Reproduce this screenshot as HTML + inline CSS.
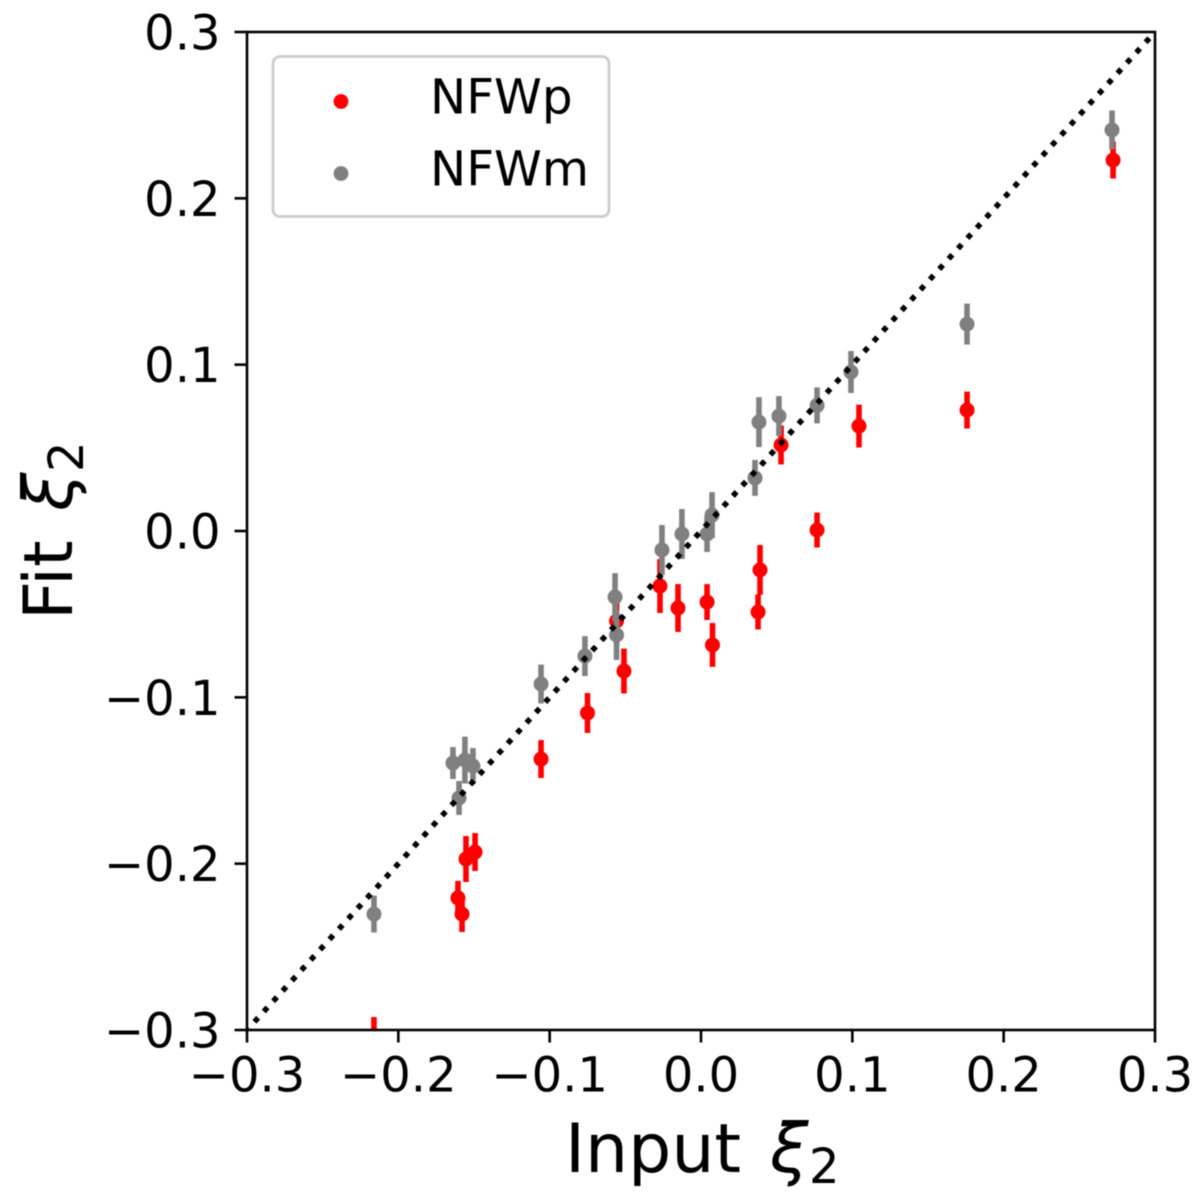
<!DOCTYPE html>
<html lang="en">
<head>
<meta charset="utf-8">
<title>Fit vs Input ξ2</title>
<style>
  html, body { margin: 0; padding: 0; background: #fff; }
  body { width: 1200px; height: 1204px; overflow: hidden; }
  svg { display: block; filter: blur(0.55px); }
  text { font-family: "DejaVu Sans", "Liberation Sans", sans-serif; fill: #000; }
</style>
</head>
<body>
<svg id="chart" xmlns="http://www.w3.org/2000/svg" width="1200" height="1204" viewBox="0 0 1200 1204">
  <defs>
    <clipPath id="plot-clip"><rect x="247" y="32" width="908" height="998"></rect></clipPath>
  </defs>
  <rect x="0" y="0" width="1200" height="1204" fill="#ffffff"></rect>
  <g id="marks" clip-path="url(#plot-clip)"></g>
  <g id="ticks"></g>
  <rect x="247" y="32" width="908" height="998" fill="none" stroke="#000" stroke-width="2.6"></rect>

  <g>
    <text x="565" y="1172" font-size="68">Input</text>
    <text x="770" y="1172" font-size="69" font-style="italic">ξ</text>
    <text x="809" y="1183" font-size="48">2</text>
  </g>
  <g>
    <text transform="translate(72,620) rotate(-90)" font-size="68">Fit</text>
    <text transform="translate(72,511) rotate(-90)" font-size="69" font-style="italic">ξ</text>
    <text transform="translate(83,472) rotate(-90)" font-size="48">2</text>
  </g>

  <g>
    <rect x="273" y="56.5" width="336" height="160" rx="7" ry="7" fill="#ffffff" fill-opacity="0.8" stroke="#cccccc" stroke-width="2.8"></rect>
    <circle cx="341" cy="101.5" r="7.4" fill="#ff0000"></circle>
    <text x="430" y="113.5" font-size="48.4">NFWp</text>
    <circle cx="341" cy="173.5" r="7.4" fill="#808080"></circle>
    <text x="430" y="185.5" font-size="48.4">NFWm</text>
  </g>
</svg>
<script>
// ---- chart data ----
const tickValues = [-0.3, -0.2, -0.1, 0.0, 0.1, 0.2, 0.3];
const tickLabels = ['\u22120.3', '\u22120.2', '\u22120.1', '0.0', '0.1', '0.2', '0.3'];
const identityLine = [-0.3, 0.3];

const nfwpInput = [0.2723, 0.1758, 0.1044, 0.0529, 0.0767, 0.0390, 0.0377, 0.0076, 0.0040, -0.0152, -0.0271, -0.0509, -0.0558, -0.0750, -0.1057, -0.1493, -0.1553, -0.1606, -0.1579, -0.2161];
const nfwpFit = [0.2230, 0.0727, 0.0631, 0.0517, 0.0006, -0.0234, -0.0487, -0.0685, -0.0427, -0.0463, -0.0331, -0.0842, -0.0541, -0.1094, -0.1371, -0.1930, -0.1972, -0.2206, -0.2303, -0.3042];
const nfwpErr = [0.0111, 0.0111, 0.0129, 0.0117, 0.0105, 0.0150, 0.0105, 0.0132, 0.0108, 0.0144, 0.0162, 0.0135, 0.0144, 0.0120, 0.0114, 0.0114, 0.0138, 0.0102, 0.0108, 0.0120];

const nfwmInput = [0.2716, 0.1758, 0.0991, 0.0767, 0.0515, 0.0383, 0.0357, 0.0073, 0.0040, -0.0126, -0.0258, -0.0568, -0.0558, -0.0767, -0.1057, -0.1639, -0.1560, -0.1507, -0.1599, -0.2161];
const nfwmFit = [0.2411, 0.1244, 0.0956, 0.0755, 0.0691, 0.0655, 0.0319, 0.0096, -0.0018, -0.0018, -0.0114, -0.0397, -0.0625, -0.0752, -0.0920, -0.1395, -0.1377, -0.1413, -0.1605, -0.2303];
const nfwmErr = [0.0117, 0.0123, 0.0126, 0.0108, 0.0120, 0.0150, 0.0108, 0.0138, 0.0108, 0.0150, 0.0150, 0.0144, 0.0150, 0.0120, 0.0117, 0.0096, 0.0141, 0.0108, 0.0102, 0.0111];

// ---- axis functions ----
const plotLeft = 247, plotRight = 1155, plotTop = 32, plotBottom = 1030;
const domainMin = -0.3, domainMax = 0.3;
function xScale(v) {
  return plotLeft + (v - domainMin) / (domainMax - domainMin) * (plotRight - plotLeft);
}
function yScale(v) {
  return plotBottom - (v - domainMin) / (domainMax - domainMin) * (plotBottom - plotTop);
}

const SVG_NS = 'http://www.w3.org/2000/svg';
const marks = document.getElementById('marks');
const ticks = document.getElementById('ticks');

function drawSeries(seriesName, xs, ys, errs, color) {
  xs.forEach(function (xv, i) {
    const bar = document.createElementNS(SVG_NS, 'line');
    
    
    bar.setAttribute('x1', xScale(xv));
    bar.setAttribute('x2', xScale(xv));
    bar.setAttribute('y1', yScale(ys[i] - errs[i]));
    bar.setAttribute('y2', yScale(ys[i] + errs[i]));
    bar.setAttribute('stroke', color);
    bar.setAttribute('stroke-width', '5.6');
    marks.appendChild(bar);

    const pt = document.createElementNS(SVG_NS, 'circle');
    
    
    pt.setAttribute('cx', xScale(xv));
    pt.setAttribute('cy', yScale(ys[i]));
    pt.setAttribute('r', '7.5');
    pt.setAttribute('fill', color);
    marks.appendChild(pt);
  });
}
drawSeries('nfwp', nfwpInput, nfwpFit, nfwpErr, '#ff0000');
drawSeries('nfwm', nfwmInput, nfwmFit, nfwmErr, '#808080');

const identity = document.createElementNS(SVG_NS, 'line');


identity.setAttribute('x1', xScale(identityLine[0]));
identity.setAttribute('y1', yScale(identityLine[0]));
identity.setAttribute('x2', xScale(identityLine[1]));
identity.setAttribute('y2', yScale(identityLine[1]));
identity.setAttribute('stroke', '#000000');
identity.setAttribute('stroke-width', '5.5');
identity.setAttribute('stroke-dasharray', '5.5 8.44');
identity.setAttribute('stroke-dashoffset', '2.9');
marks.appendChild(identity);

tickValues.forEach(function (v, i) {
  const xTick = document.createElementNS(SVG_NS, 'line');
  
  
  xTick.setAttribute('x1', xScale(v));
  xTick.setAttribute('x2', xScale(v));
  xTick.setAttribute('y1', plotBottom);
  xTick.setAttribute('y2', plotBottom + 12.5);
  xTick.setAttribute('stroke', '#000');
  xTick.setAttribute('stroke-width', '2.6');
  ticks.appendChild(xTick);

  const xLabel = document.createElementNS(SVG_NS, 'text');
  
  
  xLabel.setAttribute('x', xScale(v));
  xLabel.setAttribute('y', 1091.5);
  xLabel.setAttribute('font-size', '48');
  xLabel.setAttribute('text-anchor', 'middle');
  xLabel.textContent = tickLabels[i];
  ticks.appendChild(xLabel);

  const yTick = document.createElementNS(SVG_NS, 'line');
  
  
  yTick.setAttribute('x1', plotLeft - 12.5);
  yTick.setAttribute('x2', plotLeft);
  yTick.setAttribute('y1', yScale(v));
  yTick.setAttribute('y2', yScale(v));
  yTick.setAttribute('stroke', '#000');
  yTick.setAttribute('stroke-width', '2.6');
  ticks.appendChild(yTick);

  const yLabel = document.createElementNS(SVG_NS, 'text');
  
  
  yLabel.setAttribute('x', 220.5);
  yLabel.setAttribute('y', yScale(v) + 17.5);
  yLabel.setAttribute('font-size', '48');
  yLabel.setAttribute('text-anchor', 'end');
  yLabel.textContent = tickLabels[i];
  ticks.appendChild(yLabel);
});
</script>
</body>
</html>
